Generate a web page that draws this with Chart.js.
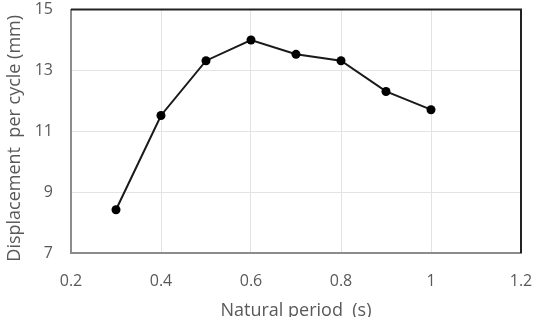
<!DOCTYPE html>
<html>
<head>
<meta charset="utf-8">
<script src="https://cdn.jsdelivr.net/npm/chart.js@4.4.1/dist/chart.umd.min.js"></script>
<style>
  html, body { margin: 0; padding: 0; background: #fff; }
  #wrap { width: 538px; height: 317px; }
</style>
</head>
<body>
<div id="wrap"><canvas id="chart" width="538" height="317"></canvas></div>
<script>
// values
const periods = [0.3, 0.4, 0.5, 0.6, 0.7, 0.8, 0.9, 1.0];
const displacement = [8.42, 11.52, 13.32, 14.0, 13.53, 13.32, 12.31, 11.71];
const xTitle = "Natural period  (s)";
const yTitle = "Displacement  per cycle (mm)";

const textGrey = "#595959";
const font = "'Open Sans', 'Liberation Sans', sans-serif";

// dark top and right edges of the plot box
const frame = {
    id: "frame",
    afterDraw(chart) {
        const { ctx, chartArea: a } = chart;
        ctx.save();
        ctx.strokeStyle = "#222";
        ctx.lineWidth = 2;
        ctx.beginPath();
        ctx.moveTo(a.left, a.top);
        ctx.lineTo(a.right, a.top);
        ctx.lineTo(a.right, a.bottom);
        ctx.stroke();
        ctx.restore();
    }
};

new Chart(document.getElementById("chart"), {
    type: "line",
    data: {
        datasets: [{
            data: periods.map((p, i) => ({ x: p, y: displacement[i] })),
            borderColor: "#1a1a1a",
            backgroundColor: "#000",
            borderWidth: 2,
            pointRadius: 4.5,
            pointBorderWidth: 0,
            tension: 0
        }]
    },
    options: {
        responsive: false,
        animation: false,
        layout: { padding: { left: 0, right: 17, top: 9, bottom: 0 } },
        plugins: { legend: { display: false }, tooltip: { enabled: false } },
        scales: {
            x: {
                type: "linear",
                min: 0.2, max: 1.2,
                afterFit: s => { s.height = 64; },
                ticks: {
                    stepSize: 0.2,
                    padding: 0,
                    color: textGrey,
                    font: { family: font, size: 16 },
                    callback: v => String(+v.toFixed(1))
                },
                // invisible tick marks only push the labels away from the axis
                grid: { color: "#e3e3e3", lineWidth: 1, drawTicks: true, tickLength: 19, tickColor: "rgba(0,0,0,0)" },
                border: { color: "#8c8c8c", width: 2 },
                title: {
                    display: true, text: xTitle, color: textGrey,
                    font: { family: font, size: 18, lineHeight: 1 },
                    padding: { top: 0, bottom: -3 }
                }
            },
            y: {
                min: 7, max: 15,
                afterFit: s => { s.width = 71; },
                ticks: {
                    stepSize: 2,
                    padding: 0,
                    color: textGrey,
                    font: { family: font, size: 16 }
                },
                grid: { color: "#e3e3e3", lineWidth: 1, drawTicks: true, tickLength: 18, tickColor: "rgba(0,0,0,0)" },
                border: { color: "#8c8c8c", width: 2 },
                title: {
                    display: true, text: yTitle + "   ", color: textGrey,
                    font: { family: font, size: 18, lineHeight: 1 },
                    padding: { top: 6, bottom: 0 }
                }
            }
        }
    },
    plugins: [frame]
});
</script>
</body>
</html>
